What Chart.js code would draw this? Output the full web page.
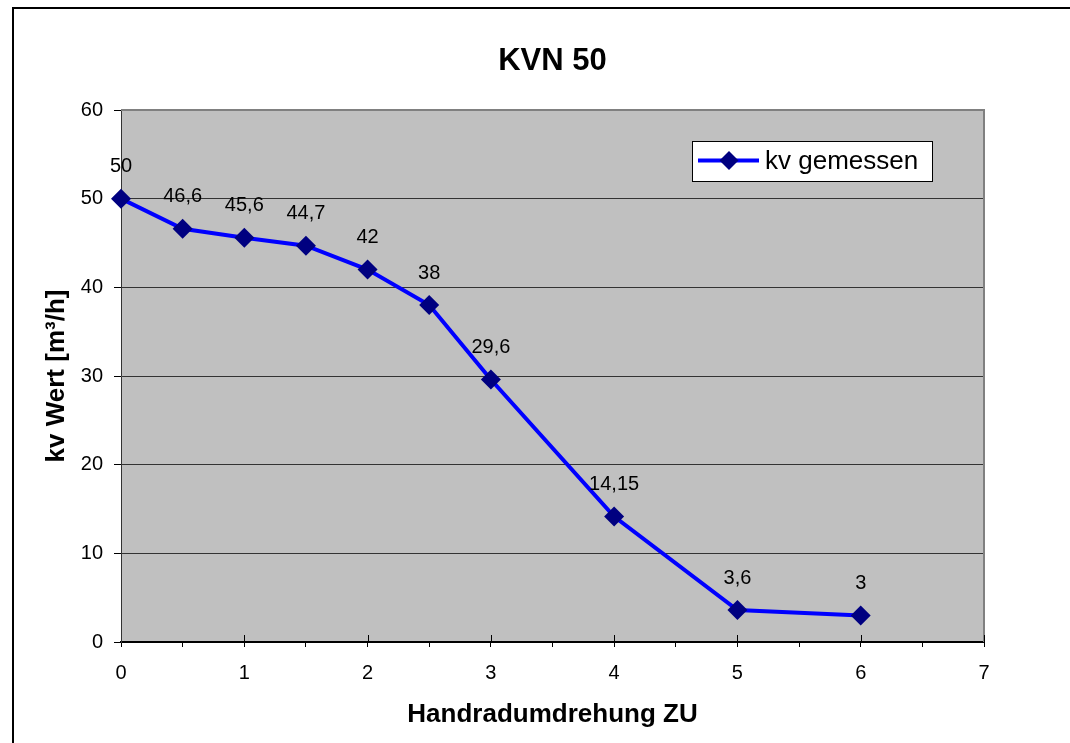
<!DOCTYPE html>
<html>
<head>
<meta charset="utf-8">
<script src="https://cdn.jsdelivr.net/npm/chart.js@4"></script>
<style>
  body { margin: 0; background: #fff; }
  canvas { display: block; }
</style>
</head>
<body>
<canvas id="kvChart" width="1070" height="743"></canvas>
<script>
// Handrad turns vs. measured kv value
const turns = [0, 0.5, 1, 1.5, 2, 2.5, 3, 4, 5, 6];
const kvValues = [50, 46.6, 45.6, 44.7, 42, 38, 29.6, 14.15, 3.6, 3];
const seriesName = 'kv gemessen';
const chartTitle = 'KVN 50';
const xTitle = 'Handradumdrehung ZU';
const yTitle = 'kv Wert [m³/h]';

Chart.defaults.font.family = "'Liberation Sans', Arial, sans-serif";
Chart.defaults.color = '#000';

const fmt = v => String(v).replace('.', ',');

// gray plot background + outer frame + title
const framePlugin = {
  id: 'frame',
  beforeDraw(chart) {
    const { ctx, chartArea: a } = chart;
    ctx.save();
    ctx.fillStyle = '#c0c0c0';
    ctx.fillRect(a.left, a.top, a.right - a.left, a.bottom - a.top);
    ctx.restore();
  },
  beforeDatasetsDraw(chart) {
    const { ctx, chartArea: a, scales } = chart;
    ctx.save();
    // top + right border of plot area
    ctx.strokeStyle = '#808080';
    ctx.lineWidth = 2;
    ctx.beginPath();
    ctx.moveTo(a.left, a.top);
    ctx.lineTo(a.right, a.top);
    ctx.lineTo(a.right, a.bottom);
    ctx.stroke();
    // major x ticks cross the axis
    ctx.strokeStyle = '#000';
    ctx.lineWidth = 1;
    scales.x.ticks.forEach(t => {
      if (Number.isInteger(t.value) && t.value > 0) {
        const x = Math.round(scales.x.getPixelForValue(t.value)) + 0.5;
        ctx.beginPath();
        ctx.moveTo(x, a.bottom - 7);
        ctx.lineTo(x, a.bottom);
        ctx.stroke();
      }
    });
    ctx.restore();
  },
  afterDraw(chart) {
    const { ctx, chartArea: a } = chart;
    ctx.save();
    ctx.fillStyle = '#000';
    ctx.fillRect(12, 7, chart.width - 12, 2);
    ctx.fillRect(12, 7, 2, chart.height - 7);
    ctx.font = "bold 31px 'Liberation Sans', Arial, sans-serif";
    ctx.textAlign = 'center';
    ctx.textBaseline = 'middle';
    ctx.fillText(chartTitle, (a.left + a.right) / 2, 61);
    ctx.restore();
  }
};

// value labels above each point
const labelPlugin = {
  id: 'pointLabels',
  afterDatasetsDraw(chart) {
    const { ctx } = chart;
    const meta = chart.getDatasetMeta(0);
    ctx.save();
    ctx.font = "20px 'Liberation Sans', Arial, sans-serif";
    ctx.fillStyle = '#000';
    ctx.textAlign = 'center';
    ctx.textBaseline = 'middle';
    meta.data.forEach((pt, i) => {
      ctx.fillText(fmt(kvValues[i]), pt.x, pt.y - 32);
    });
    ctx.restore();
  }
};

// boxed legend inside plot area
const legendPlugin = {
  id: 'boxLegend',
  afterDraw(chart) {
    const { ctx } = chart;
    const ds = chart.data.datasets[0];
    const bx = 692, by = 141, bw = 240, bh = 40;
    const cy = by + 19.5;
    ctx.save();
    ctx.fillStyle = '#fff';
    ctx.fillRect(bx, by, bw, bh);
    ctx.strokeStyle = '#000';
    ctx.lineWidth = 1;
    ctx.strokeRect(bx + 0.5, by + 0.5, bw, bh);
    ctx.strokeStyle = ds.borderColor;
    ctx.lineWidth = ds.borderWidth;
    ctx.beginPath();
    ctx.moveTo(bx + 6, cy);
    ctx.lineTo(bx + 67, cy);
    ctx.stroke();
    const mx = bx + 37, r = 9.5;
    ctx.fillStyle = ds.pointBackgroundColor;
    ctx.beginPath();
    ctx.moveTo(mx, cy - r);
    ctx.lineTo(mx + r, cy);
    ctx.lineTo(mx, cy + r);
    ctx.lineTo(mx - r, cy);
    ctx.closePath();
    ctx.fill();
    ctx.fillStyle = '#000';
    ctx.font = "26px 'Liberation Sans', Arial, sans-serif";
    ctx.textBaseline = 'middle';
    ctx.fillText(ds.label, bx + 73, cy + 1);
    ctx.restore();
  }
};

new Chart(document.getElementById('kvChart'), {
  type: 'line',
  data: {
    datasets: [{
      label: seriesName,
      data: turns.map((t, i) => ({ x: t, y: kvValues[i] })),
      borderColor: '#0000ff',
      borderWidth: 4,
      pointStyle: 'rectRot',
      pointRadius: 10,
      pointHoverRadius: 10,
      pointBackgroundColor: '#000080',
      pointBorderColor: '#000080',
      pointBorderWidth: 0,
      tension: 0,
      clip: false
    }]
  },
  options: {
    responsive: false,
    animation: false,
    devicePixelRatio: 1,
    layout: { padding: { top: 110, right: 86, bottom: 0, left: 0 } },
    plugins: {
      legend: { display: false },
      title: { display: false },
      tooltip: { enabled: false }
    },
    scales: {
      x: {
        type: 'linear',
        min: 0,
        max: 7,
        afterFit(scale) { scale.height = 101; },
        ticks: {
          stepSize: 0.5,
          autoSkip: false,
          maxRotation: 0,
          padding: 14,
          font: { size: 20 },
          callback: v => Number.isInteger(v) ? String(v) : ''
        },
        grid: { drawOnChartArea: false, tickLength: 5, color: '#000', tickColor: '#000' },
        border: { color: '#000', width: 2 },
        title: {
          display: true,
          text: xTitle,
          font: { size: 26, weight: 'bold' },
          padding: { top: 0, bottom: 13 }
        }
      },
      y: {
        min: 0,
        max: 60,
        afterFit(scale) { scale.width = 121; },
        ticks: { stepSize: 10, padding: 11, font: { size: 20 } },
        grid: {
          tickLength: 7,
          color: ctx => ctx.tick && ctx.tick.value === 60 ? 'rgba(0,0,0,0)' : '#333',
          tickColor: '#000'
        },
        border: { color: '#333', width: 1 },
        title: {
          display: true,
          text: yTitle,
          font: { size: 26, weight: 'bold' },
          padding: { top: 41, bottom: 0 }
        }
      }
    }
  },
  plugins: [framePlugin, labelPlugin, legendPlugin]
});
</script>
</body>
</html>
